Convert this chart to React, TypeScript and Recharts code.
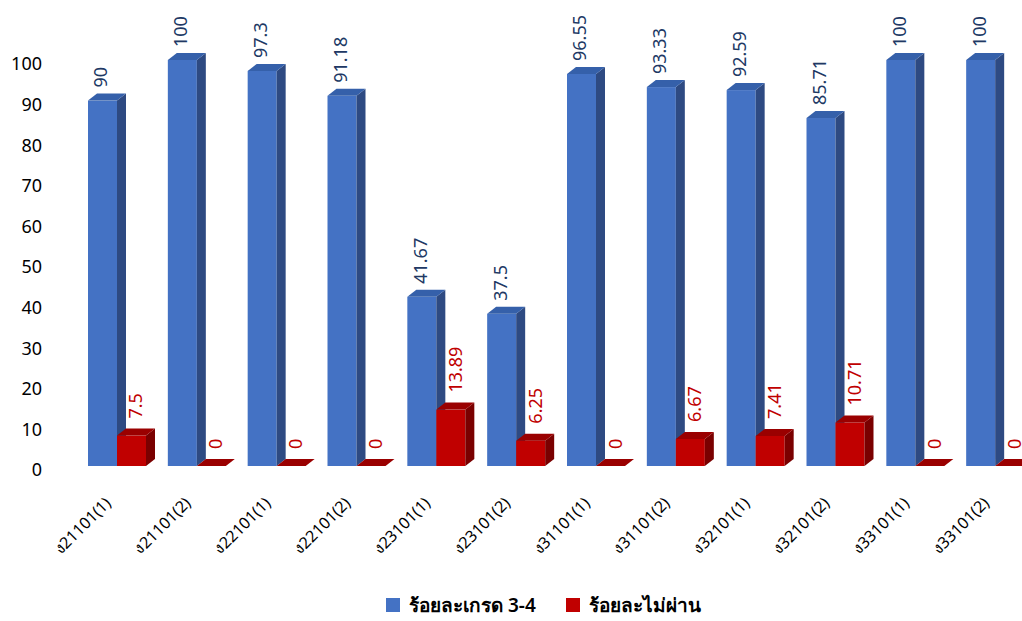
import React from "react";
import { BarChart, Bar, XAxis, YAxis, Legend, LabelList } from "recharts";

const categories = [
  "ง21101(1)", "ง21101(2)", "ง22101(1)", "ง22101(2)", "ง23101(1)", "ง23101(2)",
  "ง31101(1)", "ง31101(2)", "ง32101(1)", "ง32101(2)", "ง33101(1)", "ง33101(2)",
];
const grade34 = [90, 100, 97.3, 91.18, 41.67, 37.5, 96.55, 93.33, 92.59, 85.71, 100, 100];
const failed = [7.5, 0, 0, 0, 13.89, 6.25, 0, 6.67, 7.41, 10.71, 0, 0];
const yTicks = [0, 10, 20, 30, 40, 50, 60, 70, 80, 90, 100];

const data = categories.map((name, i) => ({ name, grade34: grade34[i], failed: failed[i] }));

const FONT = "Tahoma, 'Noto Sans', 'DejaVu Sans', sans-serif";
const DX = 9;
const DY = 7;

function box(colors: { front: string; side: string; top: string }) {
  return (p: any) => {
    const { x, y, width: w, height: h } = p;
    return (
      <g>
        <rect x={x} y={y} width={w} height={h} fill={colors.front} />
        <polygon
          points={`${x + w},${y} ${x + w + DX},${y - DY} ${x + w + DX},${y + h - DY} ${x + w},${y + h}`}
          fill={colors.side}
        />
        <polygon
          points={`${x},${y} ${x + DX},${y - DY} ${x + w + DX},${y - DY} ${x + w},${y}`}
          fill={colors.top}
        />
      </g>
    );
  };
}

function vLabel(color: string, shift: number, gap: number) {
  return (p: any) => {
    const { x, y, width, value } = p;
    const cx = x + width / 2 + shift;
    const ty = y - gap;
    return (
      <text
        x={cx}
        y={ty}
        transform={`rotate(-90 ${cx} ${ty})`}
        fill={color}
        fontSize={18}
        fontFamily={FONT}
        textAnchor="start"
        dominantBaseline="central"
      >
        {value}
      </text>
    );
  };
}

function CatTick(p: any) {
  const { x, y, payload } = p;
  const tx = x - 5;
  const ty = y + 30;
  return (
    <text
      x={tx}
      y={ty}
      transform={`rotate(-45 ${tx} ${ty})`}
      textAnchor="end"
      fontSize={16}
      fontFamily={FONT}
      fill="#000"
    >
      {payload.value}
    </text>
  );
}

function LegendBox() {
  const item = (color: string, label: string) => (
    <span style={{ display: "inline-flex", alignItems: "center", marginRight: 30 }}>
      <span style={{ width: 14, height: 14, background: color, display: "inline-block", marginRight: 9 }} />
      <span style={{ fontSize: 19, fontWeight: 600, color: "#000", fontFamily: FONT }}>{label}</span>
    </span>
  );
  return (
    <div style={{ height: 40, paddingLeft: 386, paddingTop: 8, boxSizing: "border-box", display: "flex", alignItems: "center" }}>
      {item("#4472C4", "ร้อยละเกรด 3-4")}
      {item("#C00000", "ร้อยละไม่ผ่าน")}
    </div>
  );
}

export default function App() {
  return (
    <div style={{ position: "absolute", left: 0, top: 0, width: 1022, height: 621, overflow: "hidden", background: "#fff" }}>
      <BarChart
        width={1040}
        height={621}
        data={data}
        margin={{ top: 60, right: 5, left: 0, bottom: 0 }}
        barGap={0}
        barCategoryGap={11}
      >
        <XAxis dataKey="name" interval={0} tickLine={false} axisLine={false} height={115} tick={<CatTick />} />
        <YAxis
          domain={[0, 100]}
          ticks={yTicks}
          width={77}
          tickLine={false}
          axisLine={false}
          tickMargin={29}
          tick={{ fontSize: 18, fill: "#000", fontFamily: FONT, dy: 4 }}
        />
        <Legend verticalAlign="bottom" content={<LegendBox />} wrapperStyle={{ left: 0, width: 1040 }} />
        <Bar
          dataKey="grade34"
          name="ร้อยละเกรด 3-4"
          fill="#4472C4"
          barSize={29}
          isAnimationActive={false}
          shape={box({ front: "#4472C4", side: "#2E4A82", top: "#3560AA" })}
        >
          <LabelList dataKey="grade34" content={vLabel("#203864", -2, 13)} />
        </Bar>
        <Bar
          dataKey="failed"
          name="ร้อยละไม่ผ่าน"
          fill="#C00000"
          barSize={29}
          isAnimationActive={false}
          shape={box({ front: "#C00000", side: "#7A0000", top: "#9A0000" })}
        >
          <LabelList dataKey="failed" content={vLabel("#C00000", 4, 17)} />
        </Bar>
      </BarChart>
    </div>
  );
}
